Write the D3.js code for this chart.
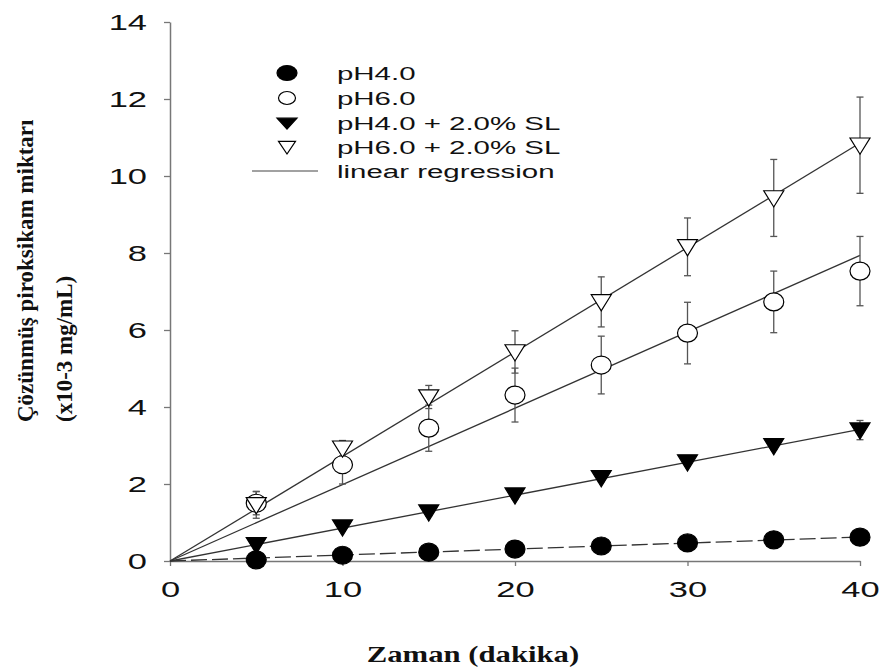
<!DOCTYPE html>
<html><head><meta charset="utf-8">
<script src="https://cdn.jsdelivr.net/npm/d3@7"></script>
<style>body{margin:0;background:#fff}svg{display:block}</style>
</head><body>
<script>
const times = [5, 10, 15, 20, 25, 30, 35, 40];
const pH4 = [0.03, 0.15, 0.23, 0.31, 0.39, 0.47, 0.55, 0.62];
const pH4Err = [0.05, 0.05, 0.05, 0.05, 0.05, 0.05, 0.05, 0.06];
const pH6 = [1.5, 2.5, 3.45, 4.31, 5.09, 5.92, 6.73, 7.53];
const pH6Err = [0.3, 0.5, 0.6, 0.7, 0.75, 0.8, 0.8, 0.9];
const pH4SL = [0.42, 0.88, 1.27, 1.71, 2.16, 2.57, 2.99, 3.40];
const pH4SLErr = [0.1, 0.1, 0.1, 0.1, 0.1, 0.1, 0.1, 0.25];
const pH6SL = [1.46, 2.93, 4.26, 5.43, 6.73, 8.16, 9.43, 10.8];
const pH6SLErr = [0.35, 0.2, 0.3, 0.55, 0.65, 0.75, 1.0, 1.25];
const seriesNames = ["pH4.0", "pH6.0", "pH4.0 + 2.0% SL", "pH6.0 + 2.0% SL"];
const xTicks = [0, 10, 20, 30, 40];
const yTicks = [0, 2, 4, 6, 8, 10, 12, 14];

const W = 883, H = 671;
const svg = d3.select("body").append("svg").attr("width", W).attr("height", H);
const x = d3.scaleLinear().domain([0, 40]).range([170, 860]);
const y = d3.scaleLinear().domain([0, 14]).range([561, 22]);

const axisColor = "#777";
const fontSans = "Arial, 'Liberation Sans', sans-serif";
const fontSerif = "'Times New Roman', 'Liberation Serif', serif";
const tickStretch = 1.5;

// axes
const gx = svg.append("g").attr("transform", `translate(0,${y(0)})`)
  .call(d3.axisBottom(x).tickValues(xTicks).tickSize(5).tickSizeOuter(0));
const gy = svg.append("g").attr("transform", `translate(${x(0)},0)`)
  .call(d3.axisLeft(y).tickValues(yTicks).tickSize(6).tickSizeOuter(0));
[gx, gy].forEach(g => {
  g.select(".domain").attr("stroke", axisColor).attr("stroke-width", 1.5);
  g.selectAll(".tick line").attr("stroke", axisColor).attr("stroke-width", 1.3);
  g.selectAll(".tick text").attr("font-family", fontSans).attr("font-size", 23).attr("fill", "#111");
});
gx.selectAll(".tick text").attr("y", 0).attr("dy", 0)
  .attr("transform", `translate(0,36) scale(${tickStretch},1)`);
gy.selectAll(".tick text").attr("x", 0).attr("dy", "0.33em")
  .attr("transform", `translate(-23,0) scale(${tickStretch},1)`);

// series definitions
const series = [
  {name: seriesNames[0], vals: pH4, err: pH4Err, shape: "circle", fill: "#000", dash: "16,5"},
  {name: seriesNames[1], vals: pH6, err: pH6Err, shape: "circle", fill: "#fff", dash: null},
  {name: seriesNames[2], vals: pH4SL, err: pH4SLErr, shape: "tri", fill: "#000", dash: null},
  {name: seriesNames[3], vals: pH6SL, err: pH6SLErr, shape: "tri", fill: "#fff", dash: null}
];

// regression lines (least squares through origin)
series.forEach(s => {
  const sxy = d3.sum(times, (t, i) => t * s.vals[i]);
  const sxx = d3.sum(times, t => t * t);
  s.slope = sxy / sxx;
});
const lineG = svg.append("g");
series.forEach(s => {
  lineG.append("line")
    .attr("x1", x(0)).attr("y1", y(0))
    .attr("x2", x(40)).attr("y2", y(s.slope * 40))
    .attr("stroke", "#333").attr("stroke-width", 1.3)
    .attr("stroke-dasharray", s.dash);
});

// error bars
const errG = svg.append("g");
series.forEach(s => {
  times.forEach((t, i) => {
    const cx = x(t), lo = y(s.vals[i] - s.err[i]), hi = y(s.vals[i] + s.err[i]);
    errG.append("line").attr("x1", cx).attr("x2", cx).attr("y1", lo).attr("y2", hi)
      .attr("stroke", "#555").attr("stroke-width", 1.3);
    [lo, hi].forEach(yy => errG.append("line").attr("x1", cx - 3.5).attr("x2", cx + 3.5)
      .attr("y1", yy).attr("y2", yy).attr("stroke", "#555").attr("stroke-width", 1.3));
  });
});

function drawMarker(g, shape, fill, cx, cy, rx, ry) {
  if (shape === "circle") {
    g.append("ellipse").attr("cx", cx).attr("cy", cy).attr("rx", rx).attr("ry", ry)
      .attr("fill", fill).attr("stroke", "#000").attr("stroke-width", 1.2);
  } else {
    g.append("path")
      .attr("d", `M${cx - rx},${cy - ry * 0.8}L${cx + rx},${cy - ry * 0.8}L${cx},${cy + ry}Z`)
      .attr("fill", fill).attr("stroke", "#000").attr("stroke-width", 1.2);
  }
}

// markers
const markG = svg.append("g");
series.forEach(s => {
  times.forEach((t, i) => drawMarker(markG, s.shape, s.fill, x(t), y(s.vals[i]),
    s.shape === "circle" ? 10 : 10, s.shape === "circle" ? 9 : 9));
});

// legend
const leg = svg.append("g");
const legY = [73, 98, 123, 147];
const legSize = [[10, 7.5], [8.5, 6.5], [10, 6], [8.5, 7]];
const legStretch = 1.55;
series.forEach((s, i) => {
  drawMarker(leg, s.shape, s.fill, 287, legY[i], legSize[i][0], legSize[i][1]);
  leg.append("text").attr("transform", `translate(337,${legY[i]}) scale(${legStretch},1)`)
    .attr("dy", "0.36em")
    .attr("font-family", fontSans).attr("font-size", 19).attr("fill", "#111").text(s.name);
});
leg.append("line").attr("x1", 252).attr("x2", 318).attr("y1", 171).attr("y2", 171)
  .attr("stroke", "#444").attr("stroke-width", 1.2);
leg.append("text").attr("transform", `translate(337,171) scale(${legStretch},1)`)
  .attr("dy", "0.36em")
  .attr("font-family", fontSans).attr("font-size", 19).attr("fill", "#111").text("linear regression");

// axis titles
svg.append("text").attr("transform", "translate(473,662) scale(1.28,1)").attr("text-anchor", "middle")
  .attr("font-family", fontSerif).attr("font-weight", "bold").attr("font-size", 24)
  .attr("fill", "#111").text("Zaman (dakika)");
svg.append("text").attr("transform", "translate(33,422) rotate(-90)")
  .attr("font-family", fontSerif).attr("font-weight", "bold").attr("font-size", 23)
  .attr("fill", "#111").text("Çözünmüş piroksikam miktarı");
svg.append("text").attr("transform", "translate(72,422) rotate(-90)")
  .attr("font-family", fontSerif).attr("font-weight", "bold").attr("font-size", 23)
  .attr("fill", "#111").text("(x10-3 mg/mL)");
</script>
</body></html>
